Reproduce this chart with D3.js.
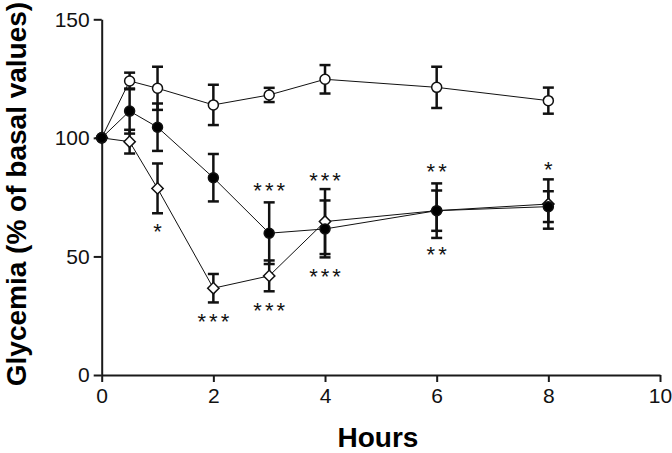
<!DOCTYPE html>
<html>
<head>
<meta charset="utf-8">
<script src="https://d3js.org/d3.v7.min.js"></script>
<style>
  body { margin: 0; background: #fff; }
  .axis path, .axis line { stroke: #1a1a1a; stroke-width: 2; fill: none; }
  .axis text { font-family: "Liberation Sans", Arial, sans-serif; font-size: 21px; fill: #111; }
</style>
</head>
<body>
<div id="chart"></div>
<script>
  const hours = [0, 0.5, 1, 2, 3, 4, 6, 8];

  const controlMean = [100, 124.0, 120.9, 113.9, 118.1, 124.7, 121.3, 115.7];
  const controlErr  = [0, 3.5, 9.1, 8.5, 3, 6, 8.7, 5.5];

  const filledMean = [100, 111.3, 104.5, 83.2, 59.8, 61.6, 69.3, 71.0];
  const filledErr  = [0, 9.5, 10, 10, 13, 12, 8.5, 6.5];

  const diamondMean = [100, 98.4, 78.7, 36.6, 41.8, 64.7, 69.3, 72.1];
  const diamondErr  = [0, 5, 10.5, 6, 6.5, 13.7, 11.5, 10.4];

  // significance marks: hour, vertical position (data units), text
  const starHours  = [1, 2, 3, 3, 4, 4, 6, 6, 8];
  const starValues = [62.5, 24.6, 79.7, 29.2, 84.1, 43.6, 87.9, 52.7, 88.6];
  const starText   = ["*", "***", "***", "***", "***", "***", "**", "**", "*"];

  const xTicks = [0, 2, 4, 6, 8, 10];
  const yTicks = [0, 50, 100, 150];

  const width = 672, height = 453;
  const svg = d3.select("#chart").append("svg")
    .attr("width", width)
    .attr("height", height);

  const x = d3.scaleLinear().domain([0, 10]).range([101.7, 660]);
  const y = d3.scaleLinear().domain([0, 150]).range([375, 19.3]);

  svg.append("g")
    .attr("class", "axis")
    .attr("transform", `translate(0,${y(0)})`)
    .call(d3.axisBottom(x).tickValues(xTicks).tickSize(7).tickSizeOuter(0).tickPadding(6));

  svg.append("g")
    .attr("class", "axis")
    .attr("transform", `translate(${x(0)},0)`)
    .call(d3.axisLeft(y).tickValues(yTicks).tickSize(8).tickSizeOuter(0).tickPadding(4));

  // axis titles
  svg.append("text")
    .attr("x", 378).attr("y", 447)
    .attr("text-anchor", "middle")
    .style("font-family", "'Liberation Sans', Arial, sans-serif")
    .style("font-weight", "bold")
    .style("font-size", "28px")
    .text("Hours");

  svg.append("text")
    .attr("transform", "translate(26,194) rotate(-90)")
    .attr("text-anchor", "middle")
    .style("font-family", "'Liberation Sans', Arial, sans-serif")
    .style("font-weight", "bold")
    .style("font-size", "28px")
    .text("Glycemia (% of basal values)");

  const series = [
    { mean: controlMean, err: controlErr, shape: "circle", fill: "#fff" },
    { mean: diamondMean, err: diamondErr, shape: "diamond", fill: "#fff" },
    { mean: filledMean, err: filledErr, shape: "circle", fill: "#000" }
  ];

  const line = d3.line().x(d => x(d.h)).y(d => y(d.v));

  series.forEach(s => {
    const pts = hours.map((h, i) => ({ h: h, v: s.mean[i], e: s.err[i] }));

    svg.append("path")
      .datum(pts)
      .attr("d", line)
      .attr("fill", "none")
      .attr("stroke", "#111")
      .attr("stroke-width", 1);

    const eb = svg.append("g").selectAll("g")
      .data(pts.filter(d => d.e > 0))
      .join("g")
      .attr("stroke", "#111")
      .attr("stroke-width", 2.5);

    eb.append("line")
      .attr("x1", d => x(d.h)).attr("x2", d => x(d.h))
      .attr("y1", d => y(d.v - d.e)).attr("y2", d => y(d.v + d.e));
    eb.append("line")
      .attr("x1", d => x(d.h) - 5.5).attr("x2", d => x(d.h) + 5.5)
      .attr("y1", d => y(d.v + d.e)).attr("y2", d => y(d.v + d.e));
    eb.append("line")
      .attr("x1", d => x(d.h) - 5.5).attr("x2", d => x(d.h) + 5.5)
      .attr("y1", d => y(d.v - d.e)).attr("y2", d => y(d.v - d.e));
  });

  series.forEach(s => {
    const pts = hours.map((h, i) => ({ h: h, v: s.mean[i] }));
    const isCircle = s.shape === "circle";
    const sym = isCircle
      ? d3.symbol().type(d3.symbolCircle).size(Math.PI * 25)
      : d3.symbol().type(d3.symbolSquare).size(64);
    svg.append("g").selectAll("path")
      .data(pts)
      .join("path")
      .attr("transform", d => `translate(${x(d.h)},${y(d.v)})` + (isCircle ? "" : " rotate(45)"))
      .attr("d", sym)
      .attr("fill", s.fill)
      .attr("stroke", "#111")
      .attr("stroke-width", 1.5);
  });

  const starSize = 22, starGap = 3;
  svg.append("g").selectAll("text")
    .data(starHours.map((h, i) => ({ h: h, v: starValues[i], t: starText[i] })))
    .join("text")
    .attr("x", d => x(d.h) + starGap / 2)
    .attr("y", d => y(d.v) + starSize * 0.55)
    .attr("text-anchor", "middle")
    .style("font-family", "'Liberation Sans', Arial, sans-serif")
    .style("font-size", starSize + "px")
    .style("letter-spacing", starGap + "px")
    .style("fill", "#111")
    .text(d => d.t);
</script>
</body>
</html>
